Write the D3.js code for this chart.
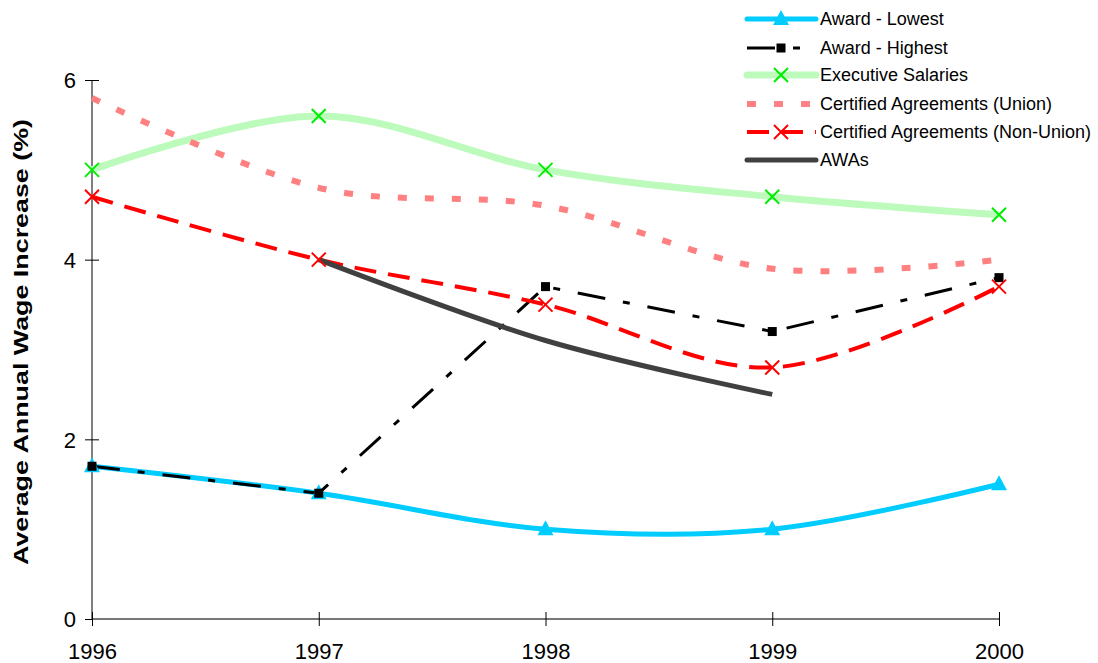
<!DOCTYPE html>
<html><head><meta charset="utf-8">
<script src="https://cdn.jsdelivr.net/npm/d3@7"></script>
<style>body{margin:0;background:#fff}svg{display:block}text{font-family:Arial,"Liberation Sans",sans-serif}</style>
</head><body><svg id="c" width="1098" height="663"></svg>
<script>
const years = [1996, 1997, 1998, 1999, 2000];
const awardLowest = [1.7, 1.4, 1.0, 1.0, 1.5];
const awardHighest = [1.7, 1.4, 3.7, 3.2, 3.8];
const execSalaries = [5.0, 5.6, 5.0, 4.7, 4.5];
const caUnion = [5.8, 4.8, 4.6, 3.9, 4.0];
const caNonUnion = [4.7, 4.0, 3.5, 2.8, 3.7];
const awas = [null, 4.0, 3.1, 2.5, null];
const yTicks = [0, 2, 4, 6];
const yLabel = "Average Annual Wage Increase (%)";

const series = [
  {name:"Award - Lowest", values:awardLowest, color:"#00CCFF", width:5, dash:null, smooth:true, marker:"tri", mcolor:"#00CCFF"},
  {name:"Award - Highest", values:awardHighest, color:"#000000", width:3, dash:"28,18,7,18", smooth:false, marker:"sq", mcolor:"#000000"},
  {name:"Executive Salaries", values:execSalaries, color:"#BDFBBD", width:7, dash:null, smooth:true, marker:"x", mcolor:"#00EE00"},
  {name:"Certified Agreements (Union)", values:caUnion, color:"#FF8080", width:6, dash:"9,18", smooth:true, marker:null},
  {name:"Certified Agreements (Non-Union)", values:caNonUnion, color:"#FF0000", width:4, dash:"22,12", smooth:true, marker:"x", mcolor:"#FF0000"},
  {name:"AWAs", values:awas, color:"#404040", width:5, dash:null, smooth:true, marker:null}
];

const svg = d3.select("#c");
const x = d3.scaleLinear().domain([1996, 2000]).range([92, 999]);
const y = d3.scaleLinear().domain([0, 6]).range([619, 80]);

// axes
const yAxis = svg.append("g").attr("transform","translate(92,0)")
  .call(d3.axisLeft(y).tickValues(yTicks).tickSize(7).tickSizeOuter(0).tickFormat(d3.format("d")));
yAxis.select(".domain").attr("stroke","#000").attr("stroke-width",1).attr("d","M0,80V619");
yAxis.selectAll(".tick line").attr("x1",-7).attr("x2",7).attr("stroke","#000");
yAxis.selectAll(".tick text").attr("x",-16).attr("dy","0.36em").attr("font-size",22).attr("fill","#000");

const xAxis = svg.append("g").attr("transform","translate(0,619)")
  .call(d3.axisBottom(x).tickValues(years).tickSize(7).tickSizeOuter(0).tickFormat(d3.format("d")));
xAxis.select(".domain").attr("stroke","#777").attr("stroke-width",2).attr("d","M92,0H999");
xAxis.selectAll(".tick line").attr("y1",-7).attr("y2",7).attr("stroke","#000");
xAxis.selectAll(".tick text").attr("y",40).attr("dy","0").attr("font-size",22).attr("fill","#000");

svg.append("text").attr("transform","translate(28,342) rotate(-90)")
  .attr("text-anchor","middle").attr("font-size",21).attr("font-weight","bold")
  .attr("textLength",446).attr("lengthAdjust","spacingAndGlyphs").text(yLabel);

// lines
const plot = svg.append("g");
series.forEach(s => {
  const pts = years.map((yr,i)=>({x:yr,v:s.values[i]})).filter(d=>d.v!=null);
  const line = d3.line().x(d=>x(d.x)).y(d=>y(d.v))
    .curve(s.smooth ? d3.curveCatmullRom.alpha(0) : d3.curveLinear);
  plot.append("path").attr("d",line(pts)).attr("fill","none")
    .attr("stroke",s.color).attr("stroke-width",s.width)
    .attr("stroke-dasharray",s.dash).attr("stroke-linejoin","round");
});

function drawMarker(g, type, cx, cy, color){
  if(type==="tri"){
    g.append("path").attr("d",`M${cx},${cy-9}L${cx+8},${cy+6}L${cx-8},${cy+6}Z`).attr("fill",color);
  } else if(type==="sq"){
    g.append("rect").attr("x",cx-4.5).attr("y",cy-4.5).attr("width",9).attr("height",9).attr("fill",color);
  } else if(type==="x"){
    g.append("path").attr("d",`M${cx-7},${cy-7}L${cx+7},${cy+7}M${cx-7},${cy+7}L${cx+7},${cy-7}`)
      .attr("stroke",color).attr("stroke-width",2).attr("fill","none");
  }
}
const mk = svg.append("g");
series.forEach(s => {
  if(!s.marker) return;
  years.forEach((yr,i)=>{ if(s.values[i]!=null) drawMarker(mk, s.marker, x(yr), y(s.values[i]), s.mcolor); });
});

// legend
const legRows = [19, 48, 75, 104, 132, 160];
const leg = svg.append("g");
series.forEach((s,i)=>{
  const ly = legRows[i];
  leg.append("line").attr("x1",747).attr("x2",816).attr("y1",ly).attr("y2",ly)
    .attr("stroke",s.color).attr("stroke-width",s.width).attr("stroke-dasharray",s.dash)
    .attr("stroke-linecap", s.dash ? "butt" : "round");
  if(s.marker) drawMarker(leg, s.marker, 781, ly, s.mcolor);
  leg.append("text").attr("x",820).attr("y",ly+6).attr("font-size",18).attr("fill","#000").text(s.name);
});
</script></body></html>
